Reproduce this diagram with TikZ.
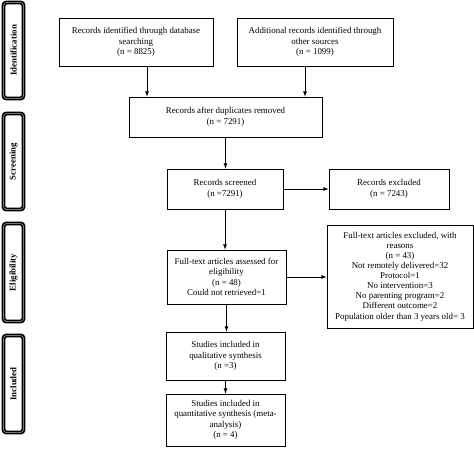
\documentclass[tikz,border=0pt]{standalone}
\usepackage{fontspec}
\setmainfont{Liberation Serif}
\begin{document}
\begin{tikzpicture}[x=1pt,y=-1pt,>=latex,
  box/.style={draw,thick,align=center,inner sep=1pt,font=\fontsize{8.9}{10.8}\selectfont},
  stage/.style={draw,line width=1.7pt,double=gray!60,double distance=0.5pt,rounded corners=3pt,rotate=90,
    minimum height=20pt,inner sep=0pt,font=\fontsize{8.8}{10}\selectfont\bfseries},
  arr/.style={->,thick}]
\useasboundingbox(0,0) rectangle (474,448);
% stages
\draw(13.5,50.5) node[stage,minimum width=96pt](idn){Identification};
\draw(13.5,161.5) node[stage,minimum width=96pt](scr){Screening};
\draw(13.5,272.5) node[stage,minimum width=98pt](elg){Eligibility};
\draw(13.5,384) node[stage,minimum width=97pt](inc){Included};
% boxes
\draw(136,42) node[box,minimum width=154pt,minimum height=48pt](db){Records identified through database\\searching\\(n = 8825)};
\draw(315,42) node[box,minimum width=156pt,minimum height=48pt](other){Additional records identified through\\other sources\\(n = 1099)};
\draw(225.5,117) node[box,minimum width=193pt,minimum height=40pt](dup){Records after duplicates removed\\(n = 7291)};
\draw(225,189) node[box,minimum width=116pt,minimum height=40pt](scrd){Records screened\\(n =7291)};
\draw(389,189) node[box,minimum width=120pt,minimum height=40pt](excl){Records excluded\\(n = 7243)};
\draw(226.5,277) node[box,minimum width=119pt,minimum height=54pt,font=\fontsize{8.9}{10.6}\selectfont](full){Full-text articles assessed for\\eligibility\\(n = 48)\\Could not retrieved=1};
\draw(400,276.5) node[box,minimum width=146pt,minimum height=103pt,font=\fontsize{8.9}{10.1}\selectfont](fexcl){Full-text articles excluded, with\\reasons\\(n = 43)\\Not remotely delivered=32\\Protocol=1\\No intervention=3\\No parenting program=2\\Different outcome=2\\Population older than 3 years old= 3};
\draw(225.5,356) node[box,minimum width=119pt,minimum height=48pt](qual){Studies included in\\qualitative synthesis\\(n =3)};
\draw(225.5,420) node[box,minimum width=119pt,minimum height=52pt,font=\fontsize{8.9}{10.3}\selectfont](quant){Studies included in\\quantitative synthesis (meta-\\analysis)\\(n = 4)};
% arrows
\draw[arr]([xshift=11pt]db.south) -- ([xshift=11pt]db.south |- dup.north);
\draw[arr]([xshift=-10pt]other.south) -- ([xshift=-10pt]other.south |- dup.north);
\draw[arr](dup.south) -- (dup.south |- scrd.north);
\draw[arr](scrd.east) -- (excl.west);
\draw[arr](scrd.south) -- (scrd.south |- full.north);
\draw[arr](full.east) -- (full.east -| fexcl.west);
\draw[arr](full.south) -- (full.south |- qual.north);
\draw[arr](qual.south) -- (qual.south |- quant.north);
\end{tikzpicture}
\end{document}
